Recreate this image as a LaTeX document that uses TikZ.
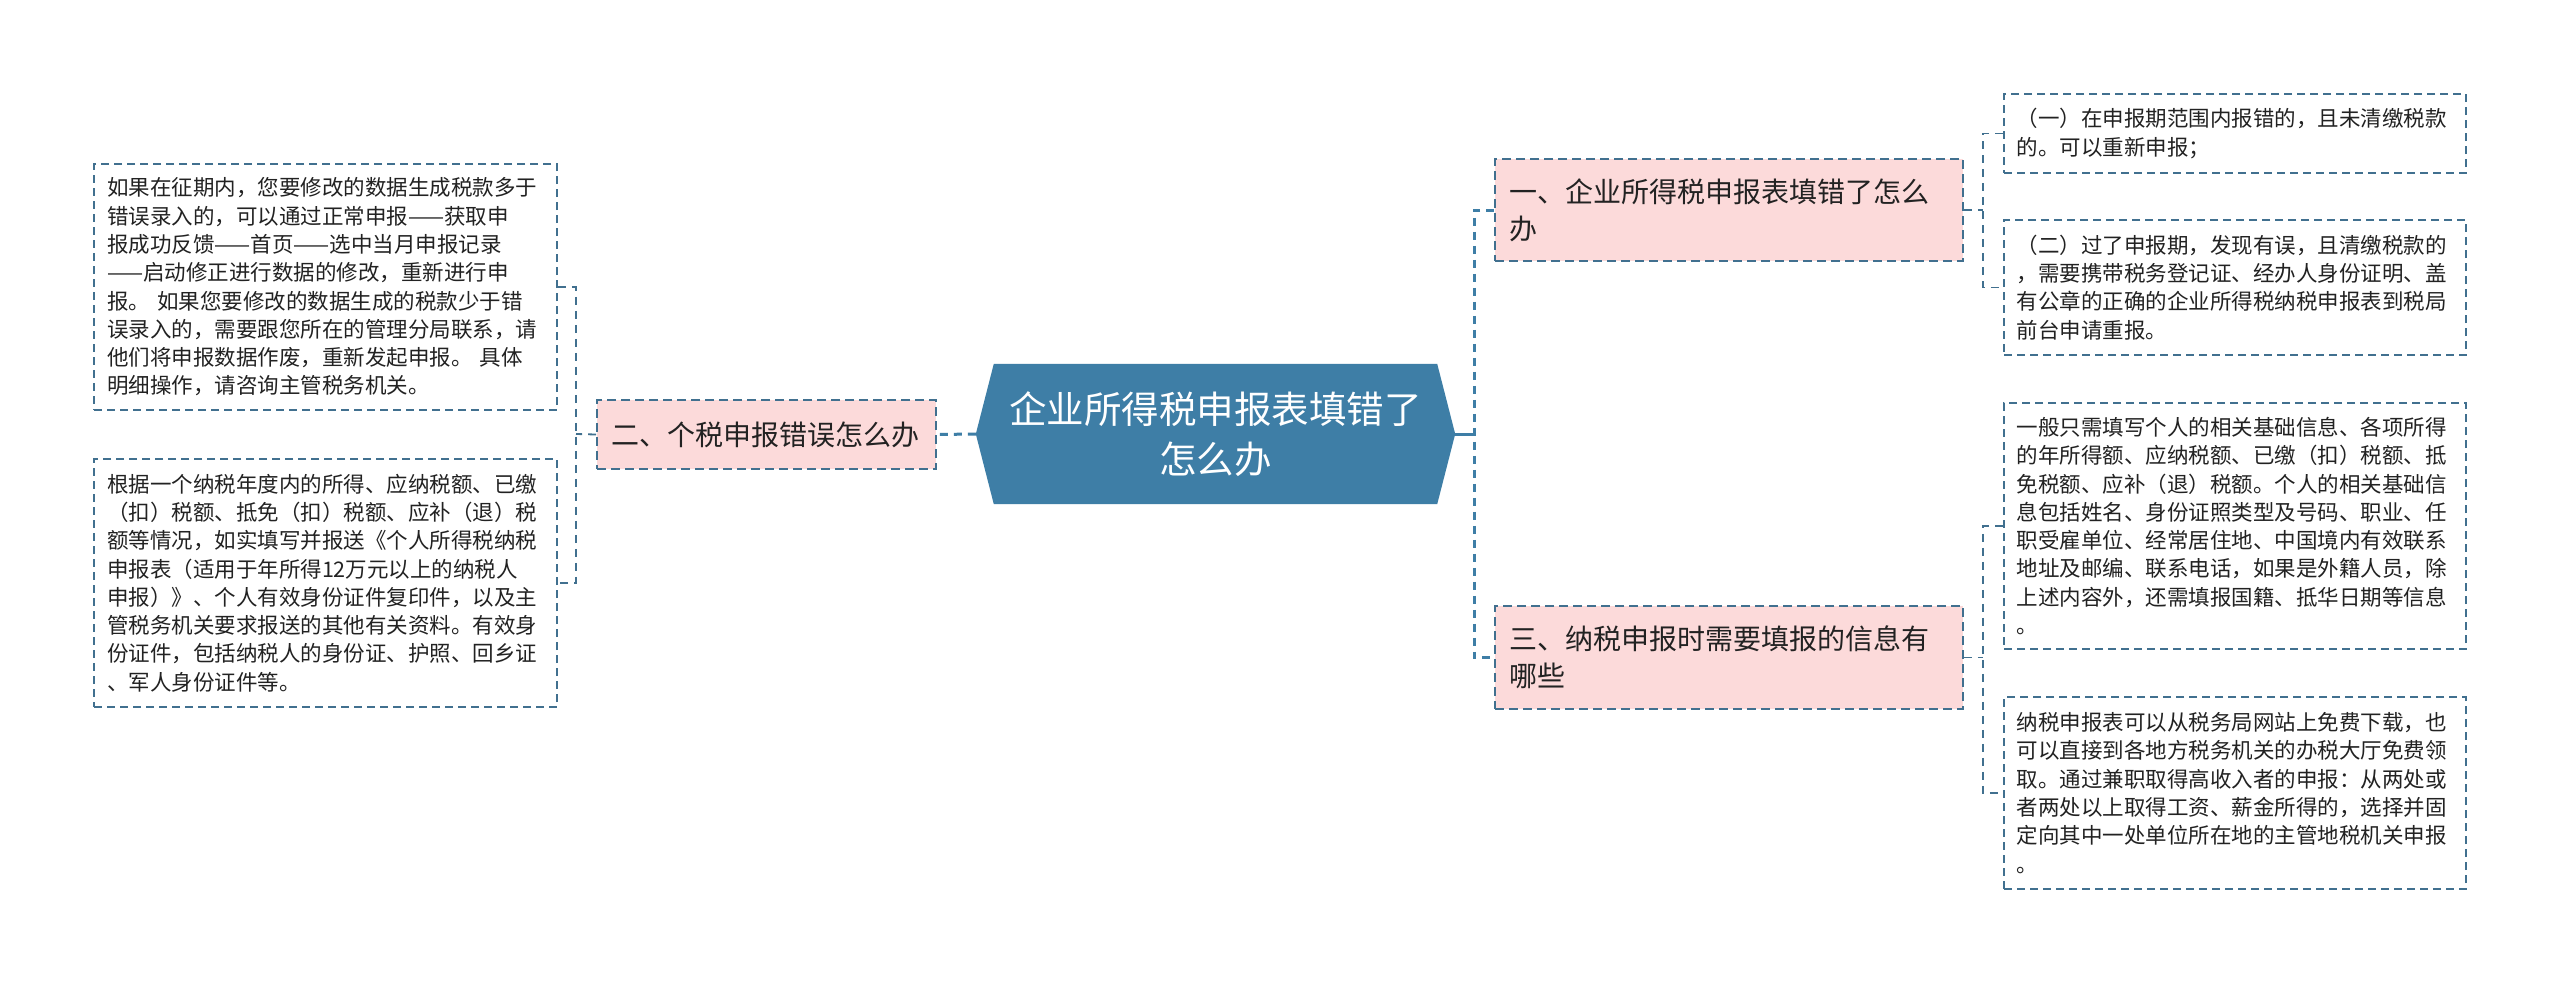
\documentclass[tikz,border=0pt]{standalone}
\usepackage{fontspec}
\setmainfont{Noto Sans CJK SC}
\definecolor{hub}{HTML}{3E7EA6}
\definecolor{edge}{HTML}{41708F}
\definecolor{pinkfill}{HTML}{FCDADA}
\definecolor{ink}{HTML}{222222}
\tikzset{
  leafbox/.style={draw=edge, line width=1.6pt, dash pattern=on 8pt off 5pt, fill=white,
    inner xsep=12pt, inner ysep=0pt, align=left, text=ink,
    font=\fontsize{21.5}{28.3}\selectfont, text width=437pt, minimum width=463pt},
  branchbox/.style={draw=edge, line width=1.8pt, dash pattern=on 9pt off 5pt, fill=pinkfill,
    inner xsep=14pt, inner ysep=0pt, align=left, text=ink,
    font=\fontsize{28}{36.7}\selectfont},
  hubnode/.style={inner sep=0pt, minimum width=479pt, minimum height=140pt, align=center,
    text=white, font=\fontsize{37.5}{50}\selectfont},
  mainline/.style={draw=hub, line width=3pt, dash pattern=on 8pt off 6pt},
  mainsolid/.style={draw=hub, line width=3pt},
  leafline/.style={draw=edge, line width=1.8pt, dash pattern=on 8pt off 6pt},
}
\begin{document}
\begin{tikzpicture}[x=1pt,y=-1pt]
\useasboundingbox (0,0) rectangle (2560,983);
\fill[white] (0,0) rectangle (2560,983);

% center
\node[hubnode] (c) at (1215.5,434) {\phantom{x}};
\fill[hub] ([xshift=18pt]c.north west) -- ([xshift=-18pt]c.north east) -- (c.east)
  -- ([xshift=-18pt]c.south east) -- ([xshift=18pt]c.south west) -- (c.west) -- cycle;
\node[hubnode] (ct) at (1215.5,434) {企业所得税申报表填错了\\怎么办};

% branches
\node[branchbox, minimum width=339pt, minimum height=69pt, text width=311pt] (b2) at (766.5,434.5) {二、个税申报错误怎么办};
\node[branchbox, minimum width=468pt, minimum height=102pt, text width=440pt] (b1) at (1729,210) {一、企业所得税申报表填错了怎么\\办};
\node[branchbox, minimum width=468pt, minimum height=103pt, text width=440pt] (b3) at (1729,657.5) {三、纳税申报时需要填报的信息有\\哪些};

% left leaves
\node[leafbox, minimum height=246pt] (l1) at (325.5,287) {如果在征期内，您要修改的数据生成税款多于\\错误录入的，可以通过正常申报——获取申\\报成功反馈——首页——选中当月申报记录\\——启动修正进行数据的修改，重新进行申\\报。 如果您要修改的数据生成的税款少于错\\误录入的，需要跟您所在的管理分局联系，请\\他们将申报数据作废，重新发起申报。 具体\\明细操作，请咨询主管税务机关。};
\node[leafbox, minimum height=248pt] (l2) at (325.5,583) {根据一个纳税年度内的所得、应纳税额、已缴\\（扣）税额、抵免（扣）税额、应补（退）税\\额等情况，如实填写并报送《个人所得税纳税\\申报表（适用于年所得12万元以上的纳税人\\申报）》、个人有效身份证件复印件，以及主\\管税务机关要求报送的其他有关资料。有效身\\份证件，包括纳税人的身份证、护照、回乡证\\、军人身份证件等。};

% right leaves
\node[leafbox, minimum height=79pt, minimum width=462pt] (r1) at (2235,133.5) {（一）在申报期范围内报错的，且未清缴税款\\的。可以重新申报；};
\node[leafbox, minimum height=135pt, minimum width=462pt] (r2) at (2235,287.5) {（二）过了申报期，发现有误，且清缴税款的\\，需要携带税务登记证、经办人身份证明、盖\\有公章的正确的企业所得税纳税申报表到税局\\前台申请重报。};
\node[leafbox, minimum height=246pt, minimum width=462pt] (r3) at (2235,526) {一般只需填写个人的相关基础信息、各项所得\\的年所得额、应纳税额、已缴（扣）税额、抵\\免税额、应补（退）税额。个人的相关基础信\\息包括姓名、身份证照类型及号码、职业、任\\职受雇单位、经常居住地、中国境内有效联系\\地址及邮编、联系电话，如果是外籍人员，除\\上述内容外，还需填报国籍、抵华日期等信息\\。};
\node[leafbox, minimum height=192pt, minimum width=462pt] (r4) at (2235,793) {纳税申报表可以从税务局网站上免费下载，也\\可以直接到各地方税务机关的办税大厅免费领\\取。通过兼职取得高收入者的申报：从两处或\\者两处以上取得工资、薪金所得的，选择并固\\定向其中一处单位所在地的主管地税机关申报\\。};

% junction coordinates
\coordinate (jr) at (1474,434);
\coordinate (jl) at (576,434);
\coordinate (jr1) at (1983,210);
\coordinate (jr3) at (1983,657.5);

% connectors
\draw[mainline] (c.west) -- (b2.east);
\draw[mainsolid] (c.east) -- (jr);
\draw[mainline] (b1.west) -- (b1.west -| jr) -- (b3.west -| jr) -- (b3.west);

\draw[leafline] (b2.west) -- (jl);
\draw[leafline] (l1.east) -- (l1.east -| jl) -- (l2.east -| jl) -- (l2.east);

\draw[leafline] (b1.east) -- (jr1);
\draw[leafline] (r1.west) -- (r1.west -| jr1) -- (r2.west -| jr1) -- (r2.west);

\draw[leafline] (b3.east) -- (jr3);
\draw[leafline] (r3.west) -- (r3.west -| jr3) -- (r4.west -| jr3) -- (r4.west);
\end{tikzpicture}
\end{document}
